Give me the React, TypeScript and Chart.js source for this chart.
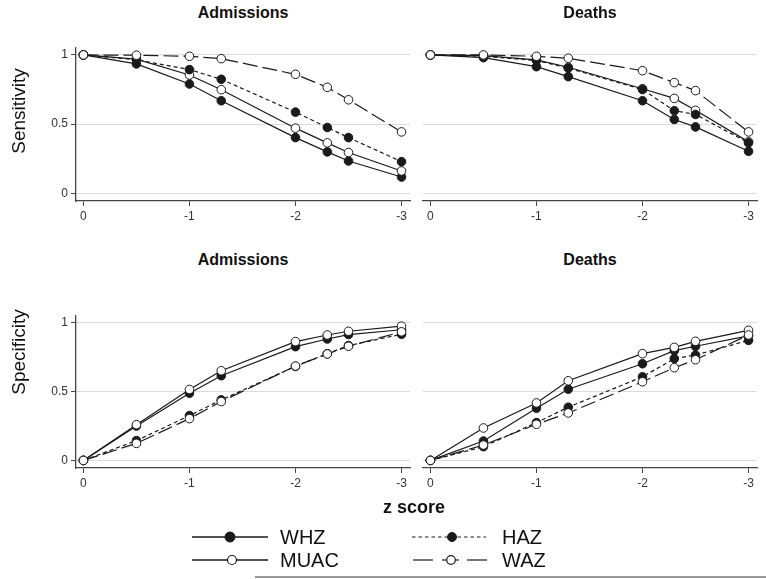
import React, { useEffect, useRef } from "react";
import { Chart, registerables } from "chart.js";

Chart.register(...registerables);

const FONT = "'Liberation Sans', Arial, Helvetica, sans-serif";

// ---- data ----
const zScores = [0, -0.5, -1, -1.3, -2, -2.3, -2.5, -3];
const xTicks = [-3, -2, -1, 0];
const yTicks = [0, 0.5, 1];

const sensAdmWHZ = [1, 0.935, 0.79, 0.669, 0.403, 0.3, 0.234, 0.118];
const sensAdmMUAC = [1, 0.97, 0.855, 0.749, 0.471, 0.365, 0.295, 0.162];
const sensAdmHAZ = [1, 0.965, 0.894, 0.824, 0.587, 0.476, 0.403, 0.229];
const sensAdmWAZ = [1, 0.998, 0.99, 0.973, 0.86, 0.766, 0.676, 0.444];

const sensDthWHZ = [1, 0.98, 0.915, 0.843, 0.669, 0.534, 0.48, 0.304];
const sensDthMUAC = [1, 0.995, 0.964, 0.911, 0.756, 0.686, 0.6, 0.372];
const sensDthHAZ = [1, 0.99, 0.96, 0.905, 0.75, 0.597, 0.57, 0.365];
const sensDthWAZ = [1, 1.0, 0.99, 0.976, 0.886, 0.8, 0.742, 0.444];

const specAdmWHZ = [0, 0.25, 0.489, 0.616, 0.827, 0.883, 0.915, 0.95];
const specAdmMUAC = [0, 0.26, 0.516, 0.652, 0.864, 0.912, 0.939, 0.976];
const specAdmHAZ = [0, 0.144, 0.326, 0.44, 0.684, 0.776, 0.835, 0.917];
const specAdmWAZ = [0, 0.124, 0.304, 0.428, 0.686, 0.774, 0.83, 0.935];

const specDthWHZ = [0, 0.141, 0.38, 0.518, 0.703, 0.798, 0.83, 0.905];
const specDthMUAC = [0, 0.236, 0.418, 0.579, 0.776, 0.822, 0.866, 0.946];
const specDthHAZ = [0, 0.1, 0.275, 0.387, 0.608, 0.74, 0.766, 0.873];
const specDthWAZ = [0, 0.112, 0.263, 0.345, 0.572, 0.674, 0.732, 0.912];

const seriesNames = ["WHZ", "MUAC", "HAZ", "WAZ"];

// ---- styles ----
const INK = "#1a1a1a";
const styleFor: Record<string, any> = {
  WHZ: { dash: [], fill: INK, order: 3 },
  MUAC: { dash: [], fill: "#ffffff", order: 2 },
  HAZ: { dash: [4, 3], fill: INK, order: 1 },
  WAZ: { dash: [15, 5], fill: "#ffffff", order: 0 },
};

type PanelProps = {
  left: number;
  top: number;
  width: number;
  height: number;
  yAxisW: number;
  padTop: number;
  padRight: number;
  xAxisH: number;
  showY: boolean;
  values: number[][];
};

function Panel(p: PanelProps) {
  const ref = useRef<HTMLCanvasElement | null>(null);
  useEffect(() => {
    if (!ref.current) return;
    const datasets = seriesNames.map((name, i) => {
      const st = styleFor[name];
      return {
        label: name,
        data: zScores.map((z, j) => ({ x: z, y: p.values[i][j] })),
        borderColor: INK,
        borderWidth: 1.2,
        borderDash: st.dash,
        pointRadius: 4.3,
        pointBorderWidth: 1,
        pointBackgroundColor: st.fill,
        pointBorderColor: INK,
        tension: 0,
        fill: false,
        order: st.order,
      };
    });
    const chart = new Chart(ref.current, {
      type: "line",
      data: { datasets },
      options: {
        animation: false,
        responsive: false,
        maintainAspectRatio: false,
        layout: { padding: { top: p.padTop, right: p.padRight, left: 0, bottom: 0 } },
        plugins: { legend: { display: false }, tooltip: { enabled: false }, title: { display: false } },
        scales: {
          x: {
            type: "linear",
            reverse: true,
            min: -3.08,
            max: 0.07,
            afterBuildTicks: (s: any) => {
              s.ticks = xTicks.map((v) => ({ value: v }));
            },
            afterFit: (s: any) => {
              s.height = p.xAxisH;
            },
            grid: {
              display: true,
              drawOnChartArea: false,
              drawTicks: true,
              tickLength: 5,
              tickColor: "#444",
              lineWidth: 1,
            },
            border: { display: true, color: "#444", width: 1.3 },
            ticks: {
              color: "#333",
              font: { family: FONT, size: 12 },
              padding: 3,
              maxRotation: 0,
              autoSkip: false,
              callback: (v: any) => String(v),
            },
          },
          y: {
            type: "linear",
            min: -0.055,
            max: 1.05,
            afterBuildTicks: (s: any) => {
              s.ticks = yTicks.map((v) => ({ value: v }));
            },
            afterFit: (s: any) => {
              s.width = p.yAxisW;
            },
            grid: {
              display: true,
              color: "#dcdcdc",
              lineWidth: 1,
              drawTicks: p.showY,
              tickLength: 5,
              tickColor: "#444",
            },
            border: { display: p.showY, color: "#444", width: 1.3 },
            ticks: {
              display: p.showY,
              color: "#333",
              font: { family: FONT, size: 12 },
              padding: 3,
              autoSkip: false,
              callback: (v: any) => String(v),
            },
          },
        },
      },
    });
    return () => chart.destroy();
  }, []);
  return (
    <canvas
      ref={ref}
      width={p.width}
      height={p.height}
      style={{ position: "absolute", left: p.left, top: p.top, width: p.width, height: p.height }}
    />
  );
}

function Label(props: { x: number; y: number; text: string; size: number; bold?: boolean; rotate?: boolean }) {
  return (
    <div
      style={{
        position: "absolute",
        left: props.x,
        top: props.y,
        transform: `translate(-50%, -50%)${props.rotate ? " rotate(-90deg)" : ""}`,
        fontFamily: FONT,
        fontSize: props.size,
        fontWeight: props.bold ? "bold" : "normal",
        color: "#111",
        whiteSpace: "nowrap",
        lineHeight: 1,
      }}
    >
      {props.text}
    </div>
  );
}

function Legend() {
  const lw = 1.5;
  return (
    <svg
      width={766}
      height={579}
      style={{ position: "absolute", left: 0, top: 0, pointerEvents: "none" }}
    >
      {/* WHZ */}
      <line x1={192} y1={537} x2={268} y2={537} stroke={INK} strokeWidth={lw} />
      <circle cx={230} cy={537} r={5} fill={INK} stroke={INK} strokeWidth={1} />
      <text x={280} y={544} fontFamily={FONT} fontSize={20} fill="#111">WHZ</text>
      {/* MUAC */}
      <line x1={192} y1={560} x2={268} y2={560} stroke={INK} strokeWidth={lw} />
      <circle cx={232} cy={560} r={4.5} fill="#fff" stroke={INK} strokeWidth={1.2} />
      <text x={280} y={567} fontFamily={FONT} fontSize={20} fill="#111">MUAC</text>
      {/* HAZ */}
      <line x1={412} y1={537} x2={486} y2={537} stroke={INK} strokeWidth={1.2} strokeDasharray="3.5 3" />
      <circle cx={452} cy={537} r={4.5} fill={INK} stroke={INK} strokeWidth={1} />
      <text x={502} y={544} fontFamily={FONT} fontSize={20} fill="#111">HAZ</text>
      {/* WAZ */}
      <line x1={413} y1={560} x2={433} y2={560} stroke={INK} strokeWidth={1.2} />
      <line x1={442} y1={560} x2={459} y2={560} stroke={INK} strokeWidth={1.2} />
      <line x1={467} y1={560} x2={487} y2={560} stroke={INK} strokeWidth={1.2} />
      <circle cx={451} cy={560} r={4.3} fill="#fff" stroke={INK} strokeWidth={1.2} />
      <text x={502} y={567} fontFamily={FONT} fontSize={20} fill="#111">WAZ</text>
      {/* bottom rule */}
      <line x1={255} y1={577} x2={766} y2={577} stroke="#777" strokeWidth={1.5} />
    </svg>
  );
}

export default function App() {
  const common = { width: 0 };
  void common;
  return (
    <div
      style={{
        position: "fixed",
        left: 0,
        top: 0,
        width: 766,
        height: 579,
        background: "#fff",
        overflow: "hidden",
      }}
    >
      <Panel left={0} top={30} width={420} height={200} yAxisW={76} padTop={18} padRight={10} xAxisH={29} showY={true}
        values={[sensAdmWHZ, sensAdmMUAC, sensAdmHAZ, sensAdmWAZ]} />
      <Panel left={413} top={30} width={353} height={200} yAxisW={10} padTop={18} padRight={9} xAxisH={29} showY={false}
        values={[sensDthWHZ, sensDthMUAC, sensDthHAZ, sensDthWAZ]} />
      <Panel left={0} top={298} width={420} height={200} yAxisW={76} padTop={18} padRight={10} xAxisH={30} showY={true}
        values={[specAdmWHZ, specAdmMUAC, specAdmHAZ, specAdmWAZ]} />
      <Panel left={413} top={298} width={353} height={200} yAxisW={10} padTop={18} padRight={9} xAxisH={30} showY={false}
        values={[specDthWHZ, specDthMUAC, specDthHAZ, specDthWAZ]} />

      <Label x={243} y={13} text="Admissions" size={16} bold />
      <Label x={590} y={13} text="Deaths" size={16} bold />
      <Label x={243} y={260} text="Admissions" size={16} bold />
      <Label x={590} y={260} text="Deaths" size={16} bold />
      <Label x={18} y={111} text="Sensitivity" size={19} rotate />
      <Label x={18} y={352} text="Specificity" size={19} rotate />
      <Label x={414} y={507} text="z score" size={18} bold />
      <Legend />
    </div>
  );
}
